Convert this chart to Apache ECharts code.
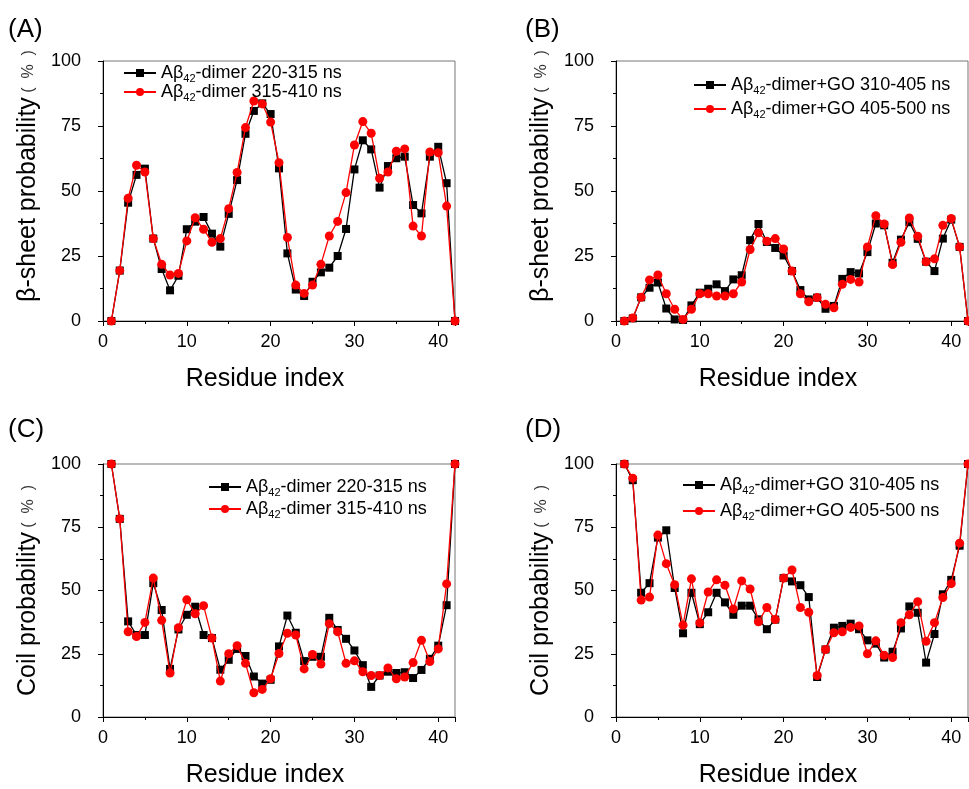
<!DOCTYPE html>
<html>
<head>
<meta charset="utf-8">
<script src="https://cdn.jsdelivr.net/npm/echarts@6/dist/echarts.min.js"></script>
<style>
html,body{margin:0;padding:0;background:#fff;}
#chart{width:969px;height:789px;}
</style>
</head>
<body>
<div id="chart"></div>
<script>
// ---- data ----
const residues = [1,2,3,4,5,6,7,8,9,10,11,12,13,14,15,16,17,18,19,20,21,22,23,24,25,26,27,28,29,30,31,32,33,34,35,36,37,38,39,40,41,42];

// (A) beta-sheet, Abeta42 dimer
const sheetDimer220 = [0,19.4,45.5,56.2,58.6,31.7,20,11.8,17.4,35.3,38.2,40,33.6,28.6,41.2,54.2,72,80.8,83.7,79.6,58.7,26,12.1,9.6,15.1,18.7,20.5,25,35.4,58.3,69.5,66,51.3,59.6,62.6,63.2,44.6,41.4,63.2,67,53,0];
const sheetDimer315 = [0,19.4,47.2,59.9,57.3,31.7,21.8,17.7,18.3,30.8,39.7,35.3,30.3,31.7,43.2,57.1,74.4,84.6,83.5,76.5,60.9,32.1,13.8,10.6,13.8,21.8,32.7,38.3,49.4,67.7,76.7,72.2,54.9,57.3,65.3,66.2,36.5,32.7,65,64.7,44.2,0];

// (B) beta-sheet, Abeta42 dimer + GO
const sheetGO310 = [0,1,9.1,12.8,14.8,4.8,0.6,0.4,6,10.9,12.4,14.1,11.5,16,17.6,31.1,37.3,30.4,28.1,25.2,19.2,11.9,8.3,9,4.7,5.8,16.2,18.8,18.3,26.5,37.5,36.8,22.4,31.3,38,31.6,22.8,19.2,31.7,39,28.5,0];
const sheetGO405 = [0,1.2,9.1,15.8,17.7,10.5,4.5,0.6,4.5,10.5,10.5,9.6,9.6,10.5,15,27.5,33.9,30.7,31.7,27.7,19.2,10.5,7.4,9,6.4,5.1,14.1,16,15,28.5,40.5,37.3,21.7,30.3,39.6,32.6,22.8,23.9,36.8,39.4,28.5,0];

// (C) coil, Abeta42 dimer
const coilDimer220 = [100,78.3,37.8,32.4,32.4,52.9,42.3,19,34.6,40.4,43.6,32.4,31.2,18.7,22.6,26.9,24.1,16,13.2,14.7,27.9,40.1,33.3,22.1,23.8,23.8,39.2,34.4,30.9,26.3,20.5,11.9,16.4,17.9,17.4,17.7,15.4,18.6,23,28.2,44.2,100];
const coilDimer315 = [100,78.3,33.7,31.8,37.4,54.9,38.2,17.4,35.3,46.3,40.8,44,31.2,14.2,25,28.2,21.2,9.6,10.9,15.1,25.1,33.1,32.4,19,24.7,20.9,36.9,33.7,21.2,22.2,17.9,16.4,16.4,19.4,15.1,15.8,21.5,30.3,21.9,26.9,52.6,100];

// (D) coil, Abeta42 dimer + GO
const coilGO310 = [100,93.6,49.1,52.9,70.9,73.8,51,33.1,49.1,36.7,41.4,49.1,45.3,40.4,44,44,38.6,34.7,38.5,54.9,53.6,52.1,47.4,15.8,26.7,35.3,36,36.9,34.7,30.3,29,23.5,25.8,35,43.7,41.2,21.5,32.8,48.5,54.2,67.7,100];
const coilGO405 = [100,94.4,46.2,47.4,71.9,60.6,52.3,36.3,54.6,37.2,49.4,54.2,52.1,42.7,53.8,50.6,37.6,43.3,38.5,54.9,58.1,43.3,41.4,16.4,26.7,33.3,33.7,35.4,36,25,30.1,24.4,23.5,37.3,40.4,45.6,29.9,37.3,47.2,52.7,68.7,100];

const xTicks = [0,10,20,30,40];
const yTicks = [0,25,50,75,100];
const panelLabels = ['(A)','(B)','(C)','(D)'];
const legendText = {
  a1: ['Aβ','42','-dimer 220-315 ns'],
  a2: ['Aβ','42','-dimer 315-410 ns'],
  b1: ['Aβ','42','-dimer+GO 310-405 ns'],
  b2: ['Aβ','42','-dimer+GO 405-500 ns'],
  c1: ['Aβ','42','-dimer 220-315 ns'],
  c2: ['Aβ','42','-dimer 315-410 ns'],
  d1: ['Aβ','42','-dimer+GO 310-405 ns'],
  d2: ['Aβ','42','-dimer+GO 405-500 ns']
};

// ---- layout ----
const FONT = '"Liberation Sans", Arial, sans-serif';
const grids = [
  {left:103, top:61, width:352, height:260},
  {left:616, top:61, width:352, height:260},
  {left:103, top:464, width:352, height:260},
  {left:616, top:464, width:352, height:260}
];
const yNames = ['β-sheet probability', 'β-sheet probability', 'Coil probability', 'Coil probability'];
const yNamePad = [[0,0,0,30],[0,0,0,30],[0,0,0,0],[0,0,0,0]];

function pairs(vals){ return residues.map((r,i)=>[r, vals[i]]); }

const xAxis = grids.map((g,i)=>({
  gridIndex:i, type:'value', min:0, max:42, interval:10,
  axisLine:{show:true, onZero:false, lineStyle:{color:'#000', width:1}},
  axisTick:{show:true, inside:false, length:5, lineStyle:{color:'#000'}},
  minorTick:{show:true, splitNumber:2, length:3, lineStyle:{color:'#000'}},
  splitLine:{show:false},
  axisLabel:{fontSize:18, color:'#000', fontFamily:FONT, margin:12, showMaxLabel:false,
    formatter:(v)=> xTicks.indexOf(v)>=0 ? String(v) : ''},
  name:'Residue index', nameLocation:'middle', nameGap:46,
  nameTextStyle:{fontSize:25, color:'#000', fontFamily:FONT, padding:[0,28,0,0]}
}));

const yAxis = grids.map((g,i)=>({
  gridIndex:i, type:'value', min:0, max:100, interval:25,
  axisLine:{show:true, onZero:false, lineStyle:{color:'#000', width:1}},
  axisTick:{show:true, inside:false, length:5, lineStyle:{color:'#000'}},
  minorTick:{show:true, splitNumber:2, length:3, lineStyle:{color:'#000'}},
  splitLine:{show:false},
  axisLabel:{fontSize:18, color:'#000', fontFamily:FONT, margin:22,
    formatter:(v)=> yTicks.indexOf(v)>=0 ? String(v) : ''},
  name:'{t|' + yNames[i] + '}{p| (  %  )}', nameLocation:'middle', nameGap:62, nameRotate:90,
  nameTextStyle:{color:'#000', fontFamily:FONT, padding:yNamePad[i],
    rich:{
      t:{fontSize:25, color:'#000', fontFamily:FONT},
      p:{fontSize:16, color:'#333', fontFamily:FONT}
    }}
}));

const seriesDefs = [
  ['a1', 0, sheetDimer220, 'black'], ['a2', 0, sheetDimer315, 'red'],
  ['b1', 1, sheetGO310, 'black'], ['b2', 1, sheetGO405, 'red'],
  ['c1', 2, coilDimer220, 'black'], ['c2', 2, coilDimer315, 'red'],
  ['d1', 3, coilGO310, 'black'], ['d2', 3, coilGO405, 'red']
];

const series = seriesDefs.map(([name, gi, vals, kind])=>({
  name, type:'line', xAxisIndex:gi, yAxisIndex:gi,
  data: pairs(vals),
  symbol: kind==='black' ? 'rect' : 'circle',
  symbolSize: kind==='black' ? 8 : 9,
  showAllSymbol:true,
  lineStyle:{color: kind==='black' ? '#000' : '#ff0000', width:1.3},
  itemStyle:{color: kind==='black' ? '#000' : '#ff0000'},
  z: kind==='black' ? 2 : 3,
  clip:true,
  emphasis:{disabled:true}
}));

const legendPos = [
  {left:123, top:64, itemGap:-1},
  {left:693, top:76, itemGap:4},
  {left:208, top:478, itemGap:2},
  {left:682, top:476, itemGap:6}
];
const legend = legendPos.map((p,i)=>({
  show:true, orient:'vertical', left:p.left, top:p.top, itemGap:p.itemGap,
  itemWidth:32, itemHeight:10, padding:0,
  data:[seriesDefs[i*2][0], seriesDefs[i*2+1][0]],
  selectedMode:false,
  formatter:(n)=>{ const t = legendText[n]; return '{m|'+t[0]+'}{s|'+t[1]+'}{m|'+t[2]+'}'; },
  textStyle:{color:'#000', fontFamily:FONT, fontSize:18,
    rich:{
      m:{fontSize:18, color:'#000', fontFamily:FONT, lineHeight:22},
      s:{fontSize:11, color:'#000', fontFamily:FONT, lineHeight:11, verticalAlign:'bottom'}
    }}
}));

const titlePos = [[8,17],[525,17],[8,417],[525,417]];
const title = panelLabels.map((t,i)=>({
  text:t, left:titlePos[i][0], top:titlePos[i][1], padding:0,
  textStyle:{fontSize:26, fontWeight:'normal', color:'#000', fontFamily:FONT}
}));

const chart = echarts.init(document.getElementById('chart'), null, {renderer:'canvas'});
chart.setOption({
  backgroundColor:'#fff',
  animation:false,
  title,
  legend,
  grid: grids.map(g=>Object.assign({show:true, borderColor:'#777', borderWidth:1, backgroundColor:'transparent', containLabel:false}, g)),
  xAxis, yAxis, series
});
</script>
</body>
</html>
